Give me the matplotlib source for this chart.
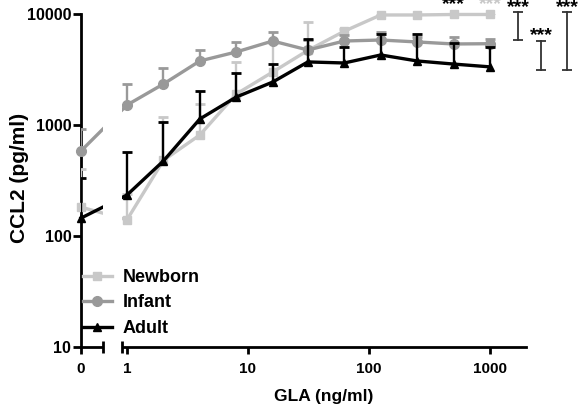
import numpy as np
import matplotlib
matplotlib.use("Agg")
import matplotlib.pyplot as plt
from matplotlib.patches import Rectangle
from matplotlib.transforms import blended_transform_factory

plt.rcParams['font.family'] = ['Liberation Sans', 'DejaVu Sans']
plt.rcParams['font.weight'] = 'bold'

# ---- data ----
doses = [0, 1, 2, 4, 8, 16, 31.25, 62.5, 125, 250, 500, 1000]
newborn_mean = [182, 140, 480, 813, 1900, 3000, 4700, 7000, 9800, 9800, 9900, 9900]
newborn_upper = [402, 240, 1180, 1546, 3700, 5500, 8470, 7300, 10100, 10100, 10200, 10200]
infant_mean = [584, 1513, 2340, 3775, 4550, 5710, 4740, 5710, 5830, 5600, 5370, 5400]
infant_upper = [920, 2340, 3266, 4740, 5600, 6890, 5800, 6500, 6890, 6200, 6200, 6000]
adult_mean = [145, 234, 474, 1133, 1786, 2437, 3700, 3620, 4275, 3775, 3540, 3340]
adult_upper = [333, 571, 1064, 2022, 2940, 3550, 5960, 5040, 6600, 6600, 5480, 5040]

series_names = ['Newborn', 'Infant', 'Adult']
x_ticks = [0, 1, 10, 100, 1000]
x_ticklabels = ['0', '1', '10', '100', '1000']
y_ticks = [10, 100, 1000, 10000]
y_ticklabels = ['10', '100', '1000', '10000']

# significance annotations
point_stars_x = [500, 1000]
point_stars_colors = ['black', '#c8c8c8']
bracket_x = [1703, 2640, 4330]
bracket_top = [10400, 5750, 10400]
bracket_bottom = [5830, 3130, 3130]
bracket_star_y = [13600, 7700, 13600]

# ---- scale: 0 placed to the left of log axis ----
X0 = -0.38


def fwd(x):
    x = np.asarray(x, dtype=float)
    with np.errstate(divide='ignore', invalid='ignore'):
        lg = np.log10(np.where(x > 0, x, 1.0))
    return np.where(x > 0, lg, X0 + x)


def inv(y):
    y = np.asarray(y, dtype=float)
    return np.where(y > X0, 10.0 ** y, y - X0)


fig = plt.figure(figsize=(5.83, 4.15), dpi=100)
ax = fig.add_axes([81 / 583, 1 - 347 / 415, (526 - 81) / 583, (347 - 14) / 415])
ax.set_xscale('function', functions=(fwd, inv))
ax.set_yscale('log')
ax.set_xlim(0, 1985)
ax.set_ylim(10, 10000)

colors = ['#c8c8c8', '#999999', 'black']
markers = ['s', 'o', '^']
msizes = [6, 7, 6]
means = [newborn_mean, infant_mean, adult_mean]
uppers = [newborn_upper, infant_upper, adult_upper]

handles = []
for i, (name, c, m, ms, mu, up) in enumerate(zip(series_names, colors, markers, msizes, means, uppers)):
    z = 3 + i
    ax.vlines(doses, mu, up, colors=c, lw=1.7, zorder=z)
    ax.plot(doses, up, ls='none', marker='_', ms=7.5, mew=2, color=c, zorder=z)
    h, = ax.plot(doses, mu, color=c, lw=2.4, marker=m, ms=ms, zorder=z + 0.5,
                 clip_on=False, label=name)
    handles.append(h)

# broken axis gap
bt = blended_transform_factory(ax.transData, ax.transAxes)
gap_lo, gap_hi = 0.634, 0.91
ax.add_patch(Rectangle((gap_lo, -0.05), gap_hi - gap_lo, 1.1, transform=bt,
                       facecolor='white', edgecolor='none', zorder=10, clip_on=False))
for gx in (gap_lo, gap_hi):
    ax.plot([gx, gx], [-0.017, 0.017], transform=bt, color='black', lw=2,
            zorder=11, clip_on=False, solid_capstyle='butt')

# spines and ticks
for s in ('top', 'right'):
    ax.spines[s].set_visible(False)
for s in ('left', 'bottom'):
    ax.spines[s].set_linewidth(2)
ax.set_xticks(x_ticks)
ax.set_xticklabels(x_ticklabels)
ax.set_yticks(y_ticks)
ax.set_yticklabels(y_ticklabels)
ax.xaxis.set_minor_locator(matplotlib.ticker.NullLocator())
ax.yaxis.set_minor_locator(matplotlib.ticker.NullLocator())
ax.tick_params(axis='y', length=6, width=2, pad=1, labelsize=11.5)
ax.tick_params(axis='x', length=5, width=2, pad=6, labelsize=11)

ax.set_xlabel('GLA (ng/ml)', fontsize=12.5, fontweight='bold')
ax.xaxis.set_label_coords((324 - 81) / 445, (347 - 389) / 333)
ax.set_ylabel('CCL2 (pg/ml)', fontsize=15, fontweight='bold')
ax.yaxis.set_label_coords((29 - 81) / 445, (347 - 178) / 333)

# significance marks
for sx, sc in zip(point_stars_x, point_stars_colors):
    ax.text(sx, 14500, '***', ha='center', va='top', fontsize=14, color=sc,
            clip_on=False)
for bx, bt_, bb, sy in zip(bracket_x, bracket_top, bracket_bottom, bracket_star_y):
    ax.plot([bx, bx], [bb, bt_], color='#333333', lw=1.3, clip_on=False)
    ax.plot([bx, bx], [bb, bt_], ls='none', marker='_', ms=7.5, mew=1.3,
            color='#333333', clip_on=False)
    ax.text(bx, sy, '***', ha='center', va='top', fontsize=14, color='black',
            clip_on=False)

leg = ax.legend(handles=handles, loc='upper left',
                bbox_to_anchor=((83 - 81) / 445, (347 - 269) / 333),
                frameon=False, fontsize=13, handlelength=1.6, handletextpad=0.6,
                labelspacing=0.47, borderpad=0, borderaxespad=0)
leg.set_zorder(12)

fig.savefig('out.png', dpi=100)
